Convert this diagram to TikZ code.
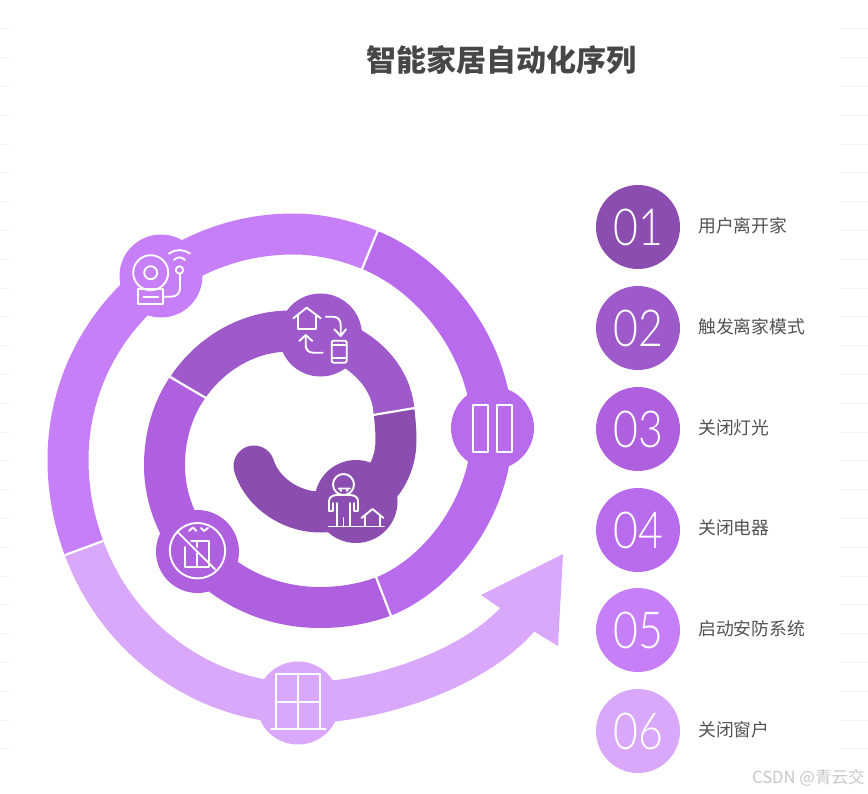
\documentclass[tikz,border=0pt]{standalone}
\usepackage{fontspec}
\newfontfamily\cjk{Noto Sans CJK SC}
\newfontfamily\numfont[FakeStretch=0.84]{Lato Light}
\definecolor{stepA}{HTML}{8B4EB0}
\definecolor{stepB}{HTML}{9E5ACB}
\definecolor{stepC}{HTML}{AF60DF}
\definecolor{stepD}{HTML}{B96BEE}
\definecolor{stepE}{HTML}{C77FF8}
\definecolor{stepF}{HTML}{DAA8FA}
\tikzset{
  band/.style={line width=41pt, line cap=butt, line join=round},
  hub/.style={circle, minimum size=83pt, inner sep=0pt, fill=#1},
  badge/.style={circle, minimum size=84pt, inner sep=0pt, fill=#1, text=white, font=\numfont\fontsize{51}{51}\selectfont},
  caption/.style={anchor=west, inner sep=0pt, text=black!68, font=\cjk\fontsize{17.8}{20}\selectfont},
  cut/.style={white, line width=2.2pt},
  glyph/.style={white, line width=1.9pt, line join=round, line cap=round},
  rule/.style={black!4, line width=1pt}
}
\begin{document}
\begin{tikzpicture}[x=1pt, y=-1pt]
  \useasboundingbox (0,0) rectangle (868,793);
  % faint ticks on both sides
  \foreach \k in {1,...,26} {
    \draw[rule] (0,28.8*\k) -- (10,28.8*\k);
    \draw[rule] (840,28.8*\k) -- (868,28.8*\k);
  }
  \node[inner sep=0pt, text=black!72, font=\cjk\bfseries\fontsize{30}{34}\selectfont] (title) at (501,60) {智能家居自动化序列};

  \coordinate (startA) at (254,466);
  \coordinate (jointA) at (394,411);
  \coordinate (jointB) at (188,387);
  \coordinate (jointC) at (383.5,596.5);
  \coordinate (jointD) at (370,250);
  \coordinate (jointE) at (84,548);
  \coordinate (neckF) at (517,620);
  \coordinate (headF) at (530,604);
  \coordinate (cutAa) at (373,415);  \coordinate (cutAb) at (415,408);
  \coordinate (cutBa) at (206,398);  \coordinate (cutBb) at (170,377);
  \coordinate (cutCa) at (376,577);  \coordinate (cutCb) at (391,616);
  \coordinate (cutDa) at (362,269);  \coordinate (cutDb) at (378,230);
  \coordinate (cutEa) at (103,541);  \coordinate (cutEb) at (65,555);

  % spiral, from the middle outwards
  \draw[band, stepA, line cap=round] (startA) .. controls (262,492) and (290,512) .. (320,512) .. controls (365,512) and (396,480) .. (396,440) .. controls (396,430) and (395,420) .. (jointA);
  \draw[band, stepB] (jointA) .. controls (390,362) and (338,331) .. (290,331) .. controls (250,331) and (212,352) .. (jointB);
  \draw[band, stepC] (jointB) .. controls (173,408) and (164.5,436) .. (164.5,465) .. controls (164.5,543.7) and (234,607.5) .. (320,607.5) .. controls (342,607.5) and (363,604) .. (jointC);
  \draw[band, stepD] (jointC) .. controls (440,574) and (492,505) .. (492,430) .. controls (492,355) and (439,278.5) .. (jointD);
  \draw[band, stepE] (jointD) .. controls (345,240) and (320,234) .. (293,234) .. controls (169,234) and (68,335) .. (68,460) .. controls (68,490) and (73.6,520) .. (jointE);
  \draw[band, stepF] (jointE) .. controls (120,645) and (210,703) .. (300,703) .. controls (375,703) and (472,670) .. (neckF) -- (headF);
  \fill[stepF] (500,608) -- (481,595) -- (563,554) -- (558,646) -- (535,632) -- cycle;

  \draw[cut] (cutAa) -- (cutAb);
  \draw[cut] (cutBa) -- (cutBb);
  \draw[cut] (cutCa) -- (cutCb);
  \draw[cut] (cutDa) -- (cutDb);
  \draw[cut] (cutEa) -- (cutEb);

  \node[hub=stepA] (hubA) at (356,501.5) {};
  \node[hub=stepB] (hubB) at (320.5,335) {};
  \node[hub=stepC] (hubC) at (197.5,551.5) {};
  \node[hub=stepD] (hubD) at (492.5,428) {};
  \node[hub=stepE] (hubE) at (161,276) {};
  \node[hub=stepF] (hubF) at (298,703) {};

  % person and house
  \draw[glyph] (343.5,484.5) circle (10.5);
  \draw[glyph] (338.5,488.5) -- (350,488.5) (340,488.5) -- (341,491) (348,488.5) -- (347,491);
  \draw[glyph] (329,511) -- (329,501) .. controls (329,497) and (333,495) .. (337,495) -- (350,495) .. controls (354,495) and (358,497) .. (358,501) -- (358,511) -- (354,511) -- (354,503);
  \draw[glyph] (329,511) -- (333,511) -- (333,503);
  \draw[glyph] (337,503) -- (337,526.5) (350,503) -- (350,526.5) (343.5,518) -- (343.5,526.5);
  \draw[glyph] (328.5,526.5) -- (384,526.5);
  \draw[glyph] (361.5,518) -- (372.5,509) -- (383.5,518) (365,516) -- (365,526.5) (380,516) -- (380,526.5);

  % house and phone
  \draw[glyph] (293.3,318.3) -- (306.7,307.7) -- (320.7,318.3);
  \draw[glyph] (298.3,315) -- (298.3,329) -- (316,329) -- (316,315);
  \draw[glyph] (325.7,316.7) -- (333,316.7) .. controls (338,316.7) and (340.7,320) .. (340.7,325) -- (340.7,335);
  \draw[glyph] (334.3,329.3) -- (340.7,336) -- (346,329.3);
  \draw[glyph, rounded corners=2pt] (331.7,340.7) rectangle (346.7,362.7);
  \draw[glyph] (331.7,345) -- (346.7,345) (331.7,358.3) -- (346.7,358.3);
  \draw[glyph] (322.7,352.7) -- (313,352.7) .. controls (308.5,352.7) and (305.7,349.5) .. (305.7,345) -- (305.7,336);
  \draw[glyph] (299.3,341) -- (305.7,335) -- (312.3,341);

  % lift, crossed out
  \draw[glyph] (197.5,550.7) circle (27.7);
  \draw[glyph] (178.3,532.7) -- (215,569.3);
  \draw[glyph] (189,531) -- (193,527.5) -- (196.5,531) (201,528) -- (204,531) -- (208,528);
  \draw[glyph] (185,547) -- (185,567) -- (209,567) -- (209,541) -- (191,541);
  \draw[glyph] (197,553) -- (197,567) (197,541) -- (197,547);

  % two panels
  \draw[glyph] (472.7,405) rectangle (487.7,451.7);
  \draw[glyph] (496.7,405) rectangle (512.3,451.7);

  % bell
  \draw[glyph] (150.7,272.7) circle (17.5);
  \draw[glyph] (150.7,272.7) circle (6.5);
  \draw[glyph] (138.3,289.3) rectangle (163.3,304.3);
  \draw[glyph] (143.3,296.7) -- (158.3,296.7);
  \draw[glyph] (163.3,296.7) -- (171,296.7) .. controls (177,296.7) and (180,293) .. (180,288) -- (180,274);
  \draw[glyph] (179.5,270) circle (3.7);
  \draw[glyph] (174,260) .. controls (177,256.5) and (182,256.5) .. (185,260);
  \draw[glyph] (169,253.5) .. controls (175,249) and (184,249) .. (190,253.5);

  % window
  \draw[glyph] (276,728.7) -- (276,674.3) -- (320,674.3) -- (320,728.7);
  \draw[glyph] (298.3,674.3) -- (298.3,728.7) (276,702.3) -- (320,702.3);
  \draw[glyph] (271,728.7) -- (325.7,728.7);

  % legend
  \node[badge=stepA] (numA) at (638,227) {01};
  \node[badge=stepB] (numB) at (638,328) {02};
  \node[badge=stepC] (numC) at (638,429) {03};
  \node[badge=stepD] (numD) at (638,530) {04};
  \node[badge=stepE] (numE) at (638,630) {05};
  \node[badge=stepF] (numF) at (638,731) {06};
  \node[caption] (capA) at (698,226) {用户离开家};
  \node[caption] (capB) at (698,327) {触发离家模式};
  \node[caption] (capC) at (698,428) {关闭灯光};
  \node[caption] (capD) at (698,528) {关闭电器};
  \node[caption] (capE) at (698,629) {启动安防系统};
  \node[caption] (capF) at (698,730) {关闭窗户};
  \node[anchor=east, inner sep=0pt, text=black!22, font=\cjk\fontsize{16.6}{18}\selectfont] (mark) at (865,778) {CSDN @青云交};
\end{tikzpicture}
\end{document}
